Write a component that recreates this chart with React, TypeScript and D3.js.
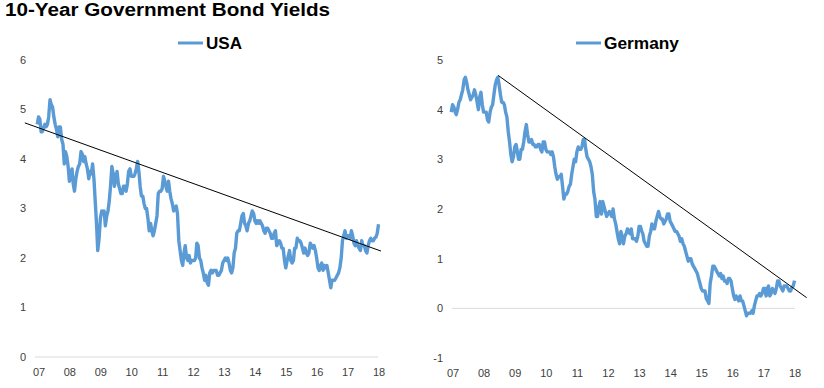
import React from "react";
import * as d3 from "d3";

const title = "10-Year Government Bond Yields";
const seriesNames = ["USA", "Germany"];
const yearTickLabels = ["07","08","09","10","11","12","13","14","15","16","17","18"];

// Semi-monthly readings (first half, second half of each month), Jan 2007 – Jan 2018
const usaYields = [
  // 2007
  4.70,4.85, 4.80,4.55, 4.55,4.62, 4.70,4.65, 4.70,4.85, 5.20,5.10, 5.05,4.85, 4.70,4.60, 4.45,4.65, 4.65,4.40, 4.30,3.90, 4.15,4.05,
  // 2008
  3.85,3.55, 3.70,3.80, 3.50,3.35, 3.60,3.75, 3.85,3.90, 4.15,4.10, 3.95,4.05, 3.90,3.80, 3.60,3.75, 3.70,3.90, 3.60,3.15, 2.70,2.15,
  // 2009
  2.40,2.80, 2.95,2.90, 2.95,2.65, 2.85,2.95, 3.15,3.45, 3.85,3.70, 3.45,3.65, 3.75,3.50, 3.40,3.30, 3.30,3.45, 3.45,3.35, 3.50,3.75,
  // 2010
  3.80,3.65, 3.65,3.65, 3.70,3.80, 3.95,3.75, 3.45,3.25, 3.25,3.10, 3.00,3.00, 2.80,2.55, 2.70,2.55, 2.45,2.55, 2.70,2.85, 3.30,3.35,
  // 2011
  3.35,3.40, 3.65,3.55, 3.45,3.35, 3.55,3.35, 3.20,3.10, 2.95,3.00, 3.05,2.90, 2.35,2.15, 1.95,1.85, 2.10,2.25, 2.00,1.95, 2.05,1.90,
  // 2012
  1.95,1.95, 1.95,2.00, 2.30,2.25, 2.00,1.95, 1.80,1.70, 1.55,1.65, 1.50,1.45, 1.70,1.75, 1.70,1.75, 1.75,1.75, 1.65,1.65, 1.70,1.75,
  // 2013
  1.90,1.95, 2.00,1.95, 2.00,1.90, 1.75,1.70, 1.80,2.10, 2.20,2.50, 2.55,2.55, 2.70,2.85, 2.90,2.70, 2.65,2.55, 2.70,2.75, 2.85,2.95,
  // 2014
  2.90,2.75, 2.70,2.75, 2.70,2.75, 2.70,2.65, 2.55,2.50, 2.60,2.60, 2.55,2.50, 2.40,2.40, 2.50,2.55, 2.25,2.30, 2.35,2.30, 2.20,2.20,
  // 2015
  1.95,1.80, 1.95,2.05, 2.15,1.95, 1.90,1.95, 2.20,2.20, 2.40,2.35, 2.35,2.30, 2.20,2.10, 2.20,2.10, 2.05,2.10, 2.30,2.25, 2.20,2.25,
  // 2016
  2.15,2.00, 1.80,1.75, 1.85,1.90, 1.75,1.85, 1.80,1.85, 1.70,1.55, 1.40,1.55, 1.55,1.55, 1.60,1.65, 1.70,1.80, 2.00,2.35, 2.45,2.55,
  // 2017
  2.40,2.45, 2.45,2.40, 2.55,2.45, 2.30,2.25, 2.35,2.25, 2.20,2.15, 2.35,2.25, 2.25,2.15, 2.10,2.25, 2.35,2.40, 2.35,2.35, 2.40,2.42,
  // 2018
  2.50,2.68,
];

const germanyYields = [
  // 2007
  3.95,4.10, 4.05,3.95, 3.90,4.00, 4.15,4.20, 4.30,4.40, 4.60,4.65, 4.55,4.40, 4.30,4.20, 4.25,4.30, 4.40,4.30, 4.15,4.00, 4.25,4.35,
  // 2008
  4.10,3.95, 3.95,3.95, 3.80,3.75, 3.95,4.05, 4.10,4.30, 4.50,4.60, 4.65,4.50, 4.30,4.15, 4.15,4.10, 3.95,3.85, 3.55,3.35, 3.10,2.95,
  // 2009
  3.05,3.25, 3.30,3.15, 3.00,3.00, 3.20,3.20, 3.35,3.55, 3.70,3.50, 3.35,3.35, 3.40,3.30, 3.30,3.25, 3.25,3.30, 3.30,3.20, 3.15,3.35,
  // 2010
  3.35,3.20, 3.15,3.15, 3.15,3.10, 3.15,3.05, 2.85,2.70, 2.60,2.65, 2.65,2.70, 2.45,2.20, 2.30,2.30, 2.35,2.45, 2.50,2.70, 2.85,3.00,
  // 2011
  2.95,3.15, 3.25,3.20, 3.20,3.25, 3.40,3.40, 3.20,3.05, 3.00,2.95, 2.85,2.70, 2.35,2.20, 1.85,1.85, 2.05,2.15, 1.90,2.15, 2.05,1.95,
  // 2012
  1.85,1.90, 1.95,1.90, 1.85,2.00, 1.80,1.70, 1.55,1.40, 1.30,1.55, 1.45,1.30, 1.45,1.50, 1.60,1.55, 1.50,1.60, 1.40,1.40, 1.40,1.35,
  // 2013
  1.45,1.65, 1.65,1.55, 1.50,1.35, 1.30,1.25, 1.25,1.45, 1.55,1.70, 1.60,1.60, 1.75,1.85, 1.95,1.85, 1.80,1.80, 1.70,1.75, 1.80,1.90,
  // 2014
  1.90,1.75, 1.70,1.65, 1.60,1.55, 1.55,1.50, 1.45,1.35, 1.40,1.30, 1.25,1.15, 1.05,0.95, 1.00,1.00, 0.90,0.85, 0.80,0.75, 0.70,0.60,
  // 2015
  0.50,0.40, 0.35,0.35, 0.35,0.20, 0.15,0.10, 0.50,0.65, 0.85,0.85, 0.80,0.75, 0.70,0.65, 0.70,0.60, 0.65,0.55, 0.55,0.50, 0.60,0.60,
  // 2016
  0.55,0.40, 0.25,0.18, 0.25,0.20, 0.15,0.25, 0.15,0.15, 0.05,-0.05, -0.15,-0.10, -0.10,-0.10, -0.05,-0.10, 0.05,0.15, 0.25,0.25, 0.30,0.25,
  // 2017
  0.30,0.40, 0.40,0.25, 0.40,0.45, 0.25,0.30, 0.40,0.35, 0.30,0.40, 0.55,0.55, 0.45,0.40, 0.35,0.45, 0.45,0.45, 0.40,0.35, 0.35,0.42,
  // 2018
  0.45,0.56,
];

// Trend lines: [date, value] endpoints
const usaTrend: [string, number][] = [["2006-08-10", 4.73], ["2018-02-17", 2.14]];
const germanyTrend: [string, number][] = [["2008-07-08", 4.69], ["2018-06-10", 0.215]];

const usaYTicks = [0, 1, 2, 3, 4, 5, 6];
const germanyYTicks = [-1, 0, 1, 2, 3, 4, 5];

const startYear = 2007;
function toDates(vals: number[]) {
  return vals.map((v, i) => {
    const m = Math.floor(i / 2);
    const day = i % 2 === 0 ? 4 : 19;
    return { date: new Date(startYear + Math.floor(m / 12), m % 12, day), value: v };
  });
}

const FONT = "'Liberation Sans', Arial, sans-serif";
const BLUE = "#5b9bd5";

type PanelProps = {
  name: string;
  nameWidth: number;
  legendX: number;
  values: number[];
  trend: [string, number][];
  yTicks: number[];
  x0: number;
  x1: number;
  yTop: number;
  yBottom: number;
  labelX: number;
  axisX0: number;
  axisX1: number;
  legendY: number;
};

function Panel(p: PanelProps) {
  const data = toDates(p.values);
  const x = d3.scaleTime()
    .domain([new Date(2007, 0, 1), new Date(2018, 0, 1)])
    .range([p.x0, p.x1]);
  const y = d3.scaleLinear()
    .domain([d3.min(p.yTicks)!, d3.max(p.yTicks)!])
    .range([p.yBottom, p.yTop]);
  const line = d3.line<{ date: Date; value: number }>()
    .x(d => x(d.date))
    .y(d => y(d.value))
    .curve(d3.curveLinear);
  const trendPts = p.trend.map(([d, v]) => ({ date: new Date(d), value: v }));
  const yearTicks = yearTickLabels.map((_, i) => new Date(startYear + i, 0, 1));
  const fmt = d3.timeFormat("%y");
  const lineLen = 25;
  return (
    <g>
      {/* legend */}
      <line x1={p.legendX} x2={p.legendX + lineLen} y1={p.legendY} y2={p.legendY} stroke={BLUE} strokeWidth={3} />
      <text x={p.legendX + lineLen + 3} y={p.legendY + 6} fontFamily={FONT} fontSize={16.5} fontWeight="bold" fill="#000"
        textLength={p.nameWidth} lengthAdjust="spacingAndGlyphs">{p.name}</text>
      {/* y tick labels */}
      {p.yTicks.map(t => (
        <text key={t} x={p.labelX} y={y(t)} dy="0.35em" textAnchor="end" fontFamily={FONT} fontSize={11} fill="#404040">{t}</text>
      ))}
      {/* zero line */}
      <line x1={p.axisX0} x2={p.axisX1} y1={y(0)} y2={y(0)} stroke="#d9d9d9" strokeWidth={1} />
      {/* x tick labels */}
      {yearTicks.map((d, i) => (
        <text key={i} x={x(d) + 2} y={p.yBottom + 19} textAnchor="middle" fontFamily={FONT} fontSize={11} fill="#404040">{fmt(d)}</text>
      ))}
      {/* data line */}
      <path d={line(data) || ""} fill="none" stroke={BLUE} strokeWidth={3.4} strokeLinejoin="round" />
      {/* trend line */}
      <path d={line(trendPts) || ""} fill="none" stroke="#000" strokeWidth={1} />
    </g>
  );
}

export default function App() {
  return (
    <svg width={824} height={388} style={{ position: "absolute", left: 0, top: 0, background: "#fff" }}>
      <rect x={0} y={0} width={824} height={388} fill="#fff" />
      <text x={5} y={16} fontFamily={FONT} fontSize={17.5} fontWeight="bold" fill="#000"
        textLength={325} lengthAdjust="spacingAndGlyphs">{title}</text>
      <Panel name={seriesNames[0]} nameWidth={36} legendX={178} values={usaYields} trend={usaTrend} yTicks={usaYTicks}
        x0={37} x1={377} yTop={60} yBottom={357} labelX={26} axisX0={35} axisX1={378} legendY={43} />
      <Panel name={seriesNames[1]} nameWidth={75} legendX={576} values={germanyYields} trend={germanyTrend} yTicks={germanyYTicks}
        x0={451} x1={793} yTop={60} yBottom={358} labelX={443} axisX0={452} axisX1={795} legendY={43} />
    </svg>
  );
}
